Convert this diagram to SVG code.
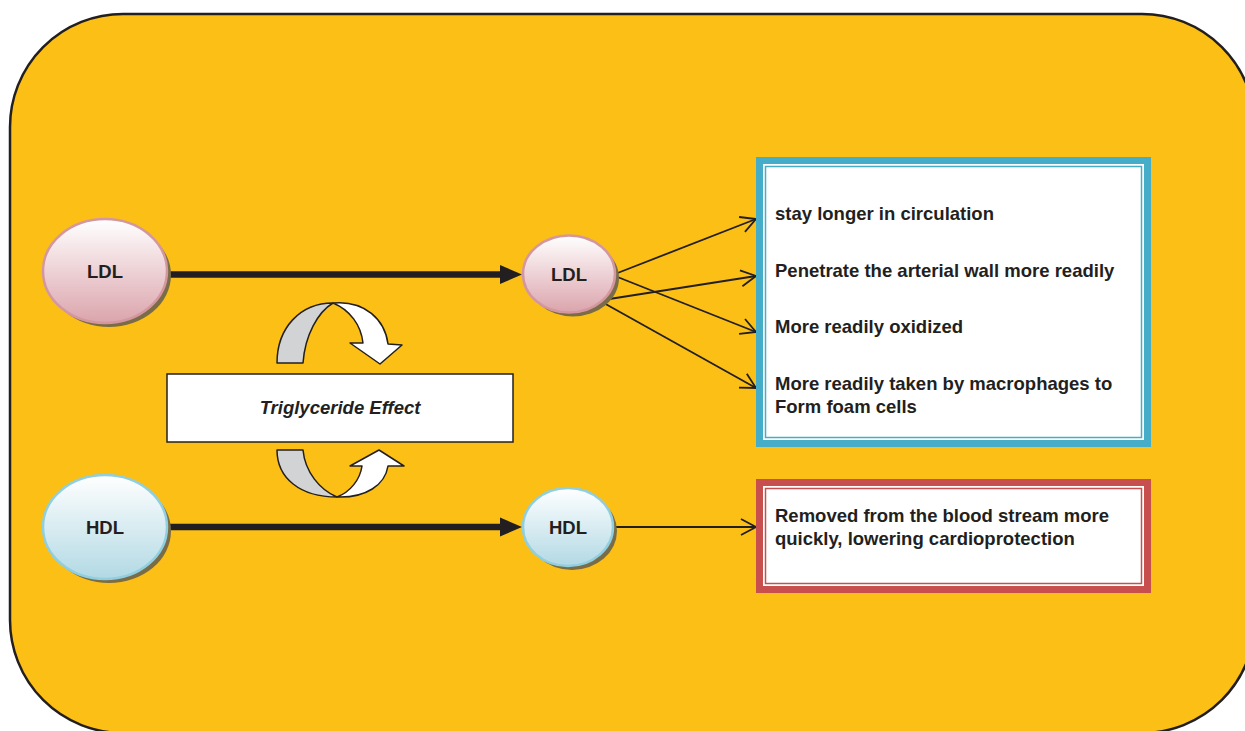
<svg xmlns="http://www.w3.org/2000/svg" width="1245" height="731" viewBox="0 0 1245 731">
<defs>
<style>
.t{font-family:"Liberation Sans",Arial,sans-serif;font-weight:bold;font-size:18.5px;fill:#231f20}
.c{text-anchor:middle}
.shadow{fill:#7a6c46}
.ldl{fill:url(#gLdl);stroke:#d4979f;stroke-width:2.5}
.hdl{fill:url(#gHdl);stroke:#8fcfe0;stroke-width:2.5}
.thick{stroke:#231f20;stroke-width:6.5;fill:none}
.thin{stroke:#231f20;stroke-width:1.8;fill:none}
.rib{stroke:#231f20;stroke-width:1.5;stroke-linejoin:round}
</style>
<linearGradient id="gLdl" x1="0" y1="0" x2="0" y2="1">
<stop offset="0" stop-color="#ffffff"/>
<stop offset="1" stop-color="#dba4ac"/>
</linearGradient>
<linearGradient id="gHdl" x1="0" y1="0" x2="0" y2="1">
<stop offset="0" stop-color="#ffffff"/>
<stop offset="1" stop-color="#b2d9e4"/>
</linearGradient>
<marker id="mFill" markerUnits="userSpaceOnUse" markerWidth="22" markerHeight="20" viewBox="0 0 22 20" refX="4" refY="10" orient="auto">
<path d="M0,0.5 L22,10 L0,19.5 z" fill="#231f20"/>
</marker>
<marker id="mOpen" markerUnits="userSpaceOnUse" markerWidth="18" markerHeight="20" viewBox="0 0 18 20" refX="16" refY="10" orient="auto">
<path d="M1,2 L16,10 L1,18" fill="none" stroke="#231f20" stroke-width="1.8"/>
</marker>
</defs>

<rect id="frame" x="10" y="14" width="1245" height="719" rx="113" ry="113" fill="#fbbf16" stroke="#231f20" stroke-width="2.5"/>

<g id="connectors">
<line class="thick" x1="167" y1="274.5" x2="504" y2="274.5" marker-end="url(#mFill)"/>
<line class="thick" x1="167" y1="527" x2="504" y2="527" marker-end="url(#mFill)"/>
<line class="thin" x1="615" y1="274" x2="756" y2="219" marker-end="url(#mOpen)"/>
<line class="thin" x1="615" y1="276" x2="756" y2="332" marker-end="url(#mOpen)"/>
<line class="thin" x1="603" y1="300" x2="756" y2="276" marker-end="url(#mOpen)"/>
<line class="thin" x1="602" y1="302" x2="756" y2="388" marker-end="url(#mOpen)"/>
<line class="thin" x1="614" y1="527" x2="756" y2="527" marker-end="url(#mOpen)"/>
</g>

<g id="ldl1">
<ellipse class="shadow" cx="109" cy="275" rx="62" ry="52"/>
<ellipse class="ldl" cx="105" cy="271" rx="62" ry="52"/>
<text class="t c" x="105" y="277.5">LDL</text>
</g>
<g id="hdl1">
<ellipse class="shadow" cx="109" cy="531" rx="62" ry="52"/>
<ellipse class="hdl" cx="105" cy="527" rx="62" ry="52"/>
<text class="t c" x="105" y="533.5">HDL</text>
</g>
<g id="ldl2">
<ellipse class="shadow" cx="573" cy="278" rx="46" ry="38.5"/>
<ellipse class="ldl" cx="569" cy="274" rx="46" ry="38.5"/>
<text class="t c" x="569" y="280.5">LDL</text>
</g>
<g id="hdl2">
<ellipse class="shadow" cx="572" cy="531" rx="45" ry="39"/>
<ellipse class="hdl" cx="568" cy="527" rx="45" ry="39"/>
<text class="t c" x="568" y="533.5">HDL</text>
</g>

<g id="cycle-top">
<path class="rib" fill="#d1d3d4" d="M277,363 C277,328 300,303 333,303 C318,312 305,335 303,363 Z"/>
<path class="rib" fill="#ffffff" d="M333,303 C365,300 385,320 388,344 L402,345 L380,364 L350,343 L363,343 C361,325 350,310 333,303 Z"/>
</g>
<g id="cycle-bottom">
<path class="rib" fill="#d1d3d4" d="M277,450 C277,478 300,497 337,497 C320,490 305,472 303,450 Z"/>
<path class="rib" fill="#ffffff" d="M337,497 C366,498 385,485 388,466 L404,466 L379,450 L350,466 L362,466 C360,480 350,492 337,497 Z"/>
</g>

<g id="triglyceride">
<rect x="167" y="374" width="346" height="68" fill="#ffffff" stroke="#231f20" stroke-width="1.5"/>
<text class="t c" x="340" y="413.5" font-style="italic">Triglyceride Effect</text>
</g>

<g id="ldl-effects">
<rect x="759.5" y="160.5" width="388" height="283" fill="#ffffff" stroke="#45adc8" stroke-width="7"/>
<rect x="765.5" y="166.5" width="376" height="271" fill="none" stroke="#45adc8" stroke-width="1.5"/>
<text class="t" x="775" y="220">stay longer in circulation</text>
<text class="t" x="775" y="277">Penetrate the arterial wall more readily</text>
<text class="t" x="775" y="333">More readily oxidized</text>
<text class="t" x="775" y="390">More readily taken by macrophages to</text>
<text class="t" x="775" y="413">Form foam cells</text>
</g>

<g id="hdl-effects">
<rect x="759.5" y="482.5" width="388" height="107" fill="#ffffff" stroke="#c7504e" stroke-width="7"/>
<rect x="765.5" y="488.5" width="376" height="95" fill="none" stroke="#c7504e" stroke-width="1.5"/>
<text class="t" x="775" y="522">Removed from the blood stream more</text>
<text class="t" x="775" y="545">quickly, lowering cardioprotection</text>
</g>
</svg>
